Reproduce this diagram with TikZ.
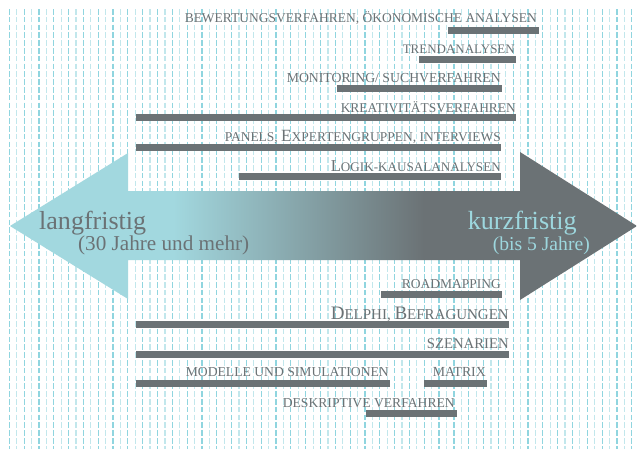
\documentclass[tikz,border=0pt]{standalone}
\usepackage{fontspec}
\setmainfont{Liberation Serif}
\usepackage{graphicx}
\definecolor{bargrey}{HTML}{6B7275}
\definecolor{cy}{HTML}{A2D8DF}
\definecolor{lnA}{HTML}{90D5DF}
\definecolor{lnB}{HTML}{C2E7EC}
\definecolor{kurz}{HTML}{9DD7DE}
\pgfdeclarehorizontalshading{arrowshade}{100bp}{color(0bp)=(cy); color(38bp)=(cy); color(58bp)=(bargrey); color(100bp)=(bargrey)}
\newcommand\fitw[2]{\resizebox{#1}{!}{#2}}
\newcommand\smc[1]{{\fontsize{10}{10}\selectfont #1}}
\newcommand\bigc[1]{{\fontsize{12.7}{12}\selectfont #1}}
\tikzset{
  lbl/.style={anchor=base east, inner sep=0pt, text=bargrey},
  barbox/.style={fill=bargrey, draw=none},
  bgline/.style={line width=1.2pt, dash pattern=on 5.6pt off 2.2pt},
}
\begin{document}
\begin{tikzpicture}[x=1pt,y=-1pt]
\fill[white] (0,0) rectangle (637,453);
\useasboundingbox (0,0) rectangle (637,453);
% background dashed lines
\foreach \i in {0,...,84}{
  \pgfmathtruncatemacro\odd{mod(\i,2)}
  \ifnum\odd=0
    \draw[bgline,lnA] ({9.3+7.41*\i},9) -- ({9.3+7.41*\i},449);
  \else
    \draw[bgline,lnB] ({9.3+7.41*\i},9) -- ({9.3+7.41*\i},449);
  \fi
}
% double arrow
\shade[shading=arrowshade]
  (10,226) -- (128,153) -- (128,191) -- (520,191) -- (520,152) -- (637,226)
  -- (520,300) -- (520,260) -- (128,260) -- (128,299) -- cycle;
% bars
\fill[barbox] (448,26.5) rectangle (539,33.5);
\fill[barbox] (419,55.5) rectangle (516,62.5);
\fill[barbox] (337,85) rectangle (502,92);
\fill[barbox] (136,113.5) rectangle (516,120.5);
\fill[barbox] (136,144) rectangle (501,151);
\fill[barbox] (239,173) rectangle (501,180);
\fill[barbox] (381,290.5) rectangle (502,297.5);
\fill[barbox] (136,320.5) rectangle (509,327.5);
\fill[barbox] (136,350.5) rectangle (509,357.5);
\fill[barbox] (136,379.5) rectangle (390,386.5);
\fill[barbox] (424,379.5) rectangle (487,386.5);
\fill[barbox] (366,409.5) rectangle (457,416.5);
% labels
\node[lbl] (t1) at (537,22) {\fitw{352pt}{\smc{BEWERTUNGSVERFAHREN, ÖKONOMISCHE ANALYSEN}}};
\node[lbl] (t2) at (515,53) {\fitw{112pt}{\smc{TRENDANALYSEN}}};
\node[lbl] (t3) at (501,82) {\fitw{214pt}{\smc{MONITORING/ SUCHVERFAHREN}}};
\node[lbl] (t4) at (516,112) {\fitw{175pt}{\smc{KREATIVITÄTSVERFAHREN}}};
\node[lbl] (t5) at (501,141) {\fitw{276pt}{\smc{PANELS, }\bigc{E}\smc{XPERTENGRUPPEN, INTERVIEWS}}};
\node[lbl] (t6) at (501,171) {\fitw{170pt}{\bigc{L}\smc{OGIK-KAUSALANALYSEN}}};
\node[lbl] (t7) at (501,288) {\fitw{99pt}{\smc{ROADMAPPING}}};
\node[lbl] (t8) at (509,319) {\fitw{178pt}{\bigc{D}\smc{ELPHI, }\bigc{B}\smc{EFRAGUNGEN}}};
\node[lbl] (t9) at (509,348) {\fitw{82pt}{\smc{SZENARIEN}}};
\node[lbl] (t10) at (389,376) {\fitw{203pt}{\smc{MODELLE UND SIMULATIONEN}}};
\node[lbl] (t11) at (486,376) {\fitw{53pt}{\smc{MATRIX}}};
\node[lbl] (t12) at (455,407) {\fitw{172pt}{\smc{DESKRIPTIVE VERFAHREN}}};
% arrow texts
\node[anchor=base west, inner sep=0pt, text=bargrey] (lang) at (39,229) {\fitw{107pt}{langfristig}};
\node[anchor=base west, inner sep=0pt, text=bargrey] (langsub) at (78,250) {\fitw{171pt}{(30 Jahre und mehr)}};
\node[anchor=base east, inner sep=0pt, text=kurz] (kurz) at (577,229.5) {\fitw{109pt}{kurzfristig}};
\node[anchor=base east, inner sep=0pt, text=kurz] (kurzsub) at (590,250) {\fitw{97pt}{(bis 5 Jahre)}};
\end{tikzpicture}
\end{document}
